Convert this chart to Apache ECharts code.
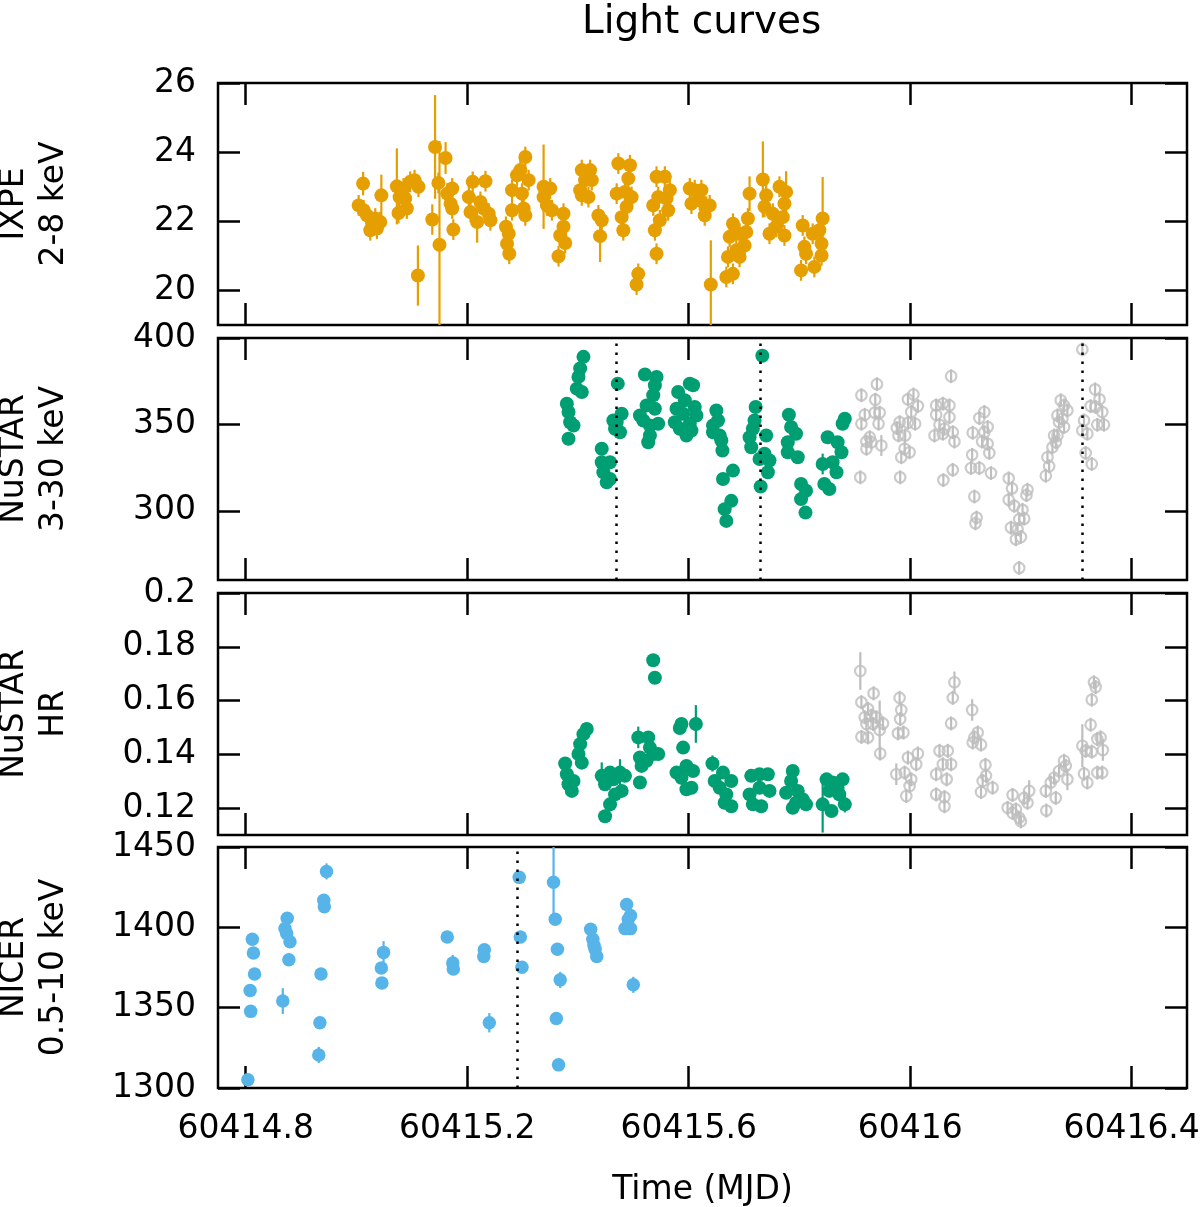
<!DOCTYPE html>
<html><head><meta charset="utf-8">
<script src="https://cdn.jsdelivr.net/npm/echarts@6/dist/echarts.min.js"></script>
<style>html,body{margin:0;padding:0;background:#fff}#chart{width:1200px;height:1207px}</style>
</head><body><div id="chart"></div>
<script>
// ---------- axis ticks ----------
const xTicks = [60414.8, 60415.2, 60415.6, 60416.0, 60416.4];
const xTickLabels = ['60414.8', '60415.2', '60415.6', '60416', '60416.4'];
const ixpeTicks = [20, 22, 24, 26];
const nustarTicks = [300, 350, 400];
const hrTicks = [0.12, 0.14, 0.16, 0.18, 0.2];
const nicerTicks = [1300, 1350, 1400, 1450];

// ---------- IXPE 2-8 keV ----------
const ixpeTime = [60415.012,60415.004,60415.013,60415.019,60415.028,60415.025,60415.037,60415.043,60415.034,60415.045,
60415.073,60415.078,60415.076,60415.085,60415.091,60415.097,60415.105,60415.112,60415.088,60415.111,
60415.142,60415.137,60415.148,60415.150,60415.161,60415.164,60415.173,60415.170,60415.173,60415.175,
60415.210,60415.233,60415.203,60415.206,60415.218,60415.224,60415.230,60415.239,60415.242,60415.270,
60415.275,60415.272,60415.276,60415.281,60415.281,60415.290,60415.305,60415.299,60415.302,60415.305,
60415.311,60415.296,60415.338,60415.338,60415.344,60415.350,60415.353,60415.374,60415.374,60415.368,
60415.377,60415.365,60415.407,60415.422,60415.404,60415.413,60415.425,60415.419,60415.407,60415.437,
60415.443,60415.440,60415.473,60415.494,60415.470,60415.491,60415.485,60415.497,60415.479,60415.482,
60415.488,60415.509,60415.506,60415.542,60415.557,60415.536,60415.545,60415.548,60415.539,60415.542,
60415.566,60415.563,60415.560,60415.602,60415.611,60415.623,60415.605,60415.620,60415.632,60415.629,
60415.638,60415.640,60415.674,60415.680,60415.671,60415.680,60415.668,60415.686,60415.692,60415.701,
60415.707,60415.710,60415.704,60415.692,60415.734,60415.740,60415.737,60415.752,60415.746,60415.764,
60415.776,60415.773,60415.770,60415.773,60415.758,60415.806,60415.809,60415.803,60415.812,60415.827,
60415.824,60415.836,60415.840,60415.840,60415.842];
const ixpeRate = [23.09,22.46,22.32,22.17,21.98,21.74,21.79,21.98,22.08,22.75,
23.01,22.70,22.24,22.95,22.37,23.14,23.19,23.00,22.66,20.43,
24.15,22.05,23.11,21.32,23.83,22.80,22.95,22.51,22.37,21.76,
23.14,23.16,22.70,22.27,21.98,22.56,22.37,22.22,22.03,21.84,
21.64,21.35,21.06,22.90,22.32,23.33,23.86,22.80,22.37,22.17,
23.19,23.48,23.00,22.70,22.46,22.95,22.32,22.22,21.84,21.59,
21.37,20.99,23.48,23.48,22.90,23.19,23.19,22.70,22.75,22.17,
22.03,21.57,23.67,23.62,22.80,23.24,22.85,22.70,22.12,21.74,
22.42,20.48,20.17,23.29,23.29,22.46,22.70,22.03,21.74,21.06,
22.90,22.32,22.66,22.95,22.90,22.90,22.51,22.61,22.42,22.17,
22.46,20.17,21.55,21.93,20.97,20.48,20.39,21.16,21.64,21.30,
22.08,22.80,21.69,20.97,23.21,22.75,22.42,22.22,21.64,23.00,
22.85,22.51,22.12,21.59,21.84,21.88,21.26,20.58,21.06,20.68,
21.64,21.74,21.35,21.01,22.08];
const ixpeErr = [0.34,0.3,0.3,0.3,0.3,0.3,0.3,0.3,0.3,0.6,
1.1,0.3,0.3,0.3,0.3,0.3,0.3,0.3,0.3,0.87,
1.5,0.44,0.3,3.0,0.46,0.3,0.3,0.3,0.3,0.3,
0.3,0.3,0.3,0.3,0.6,0.3,0.3,0.3,0.3,0.3,
0.3,0.3,0.3,0.3,0.3,0.3,0.3,0.3,0.3,0.3,
0.3,0.3,1.22,0.3,0.3,0.3,0.3,0.3,0.3,0.3,
0.3,0.3,0.3,0.3,0.3,0.3,0.3,0.3,0.3,0.3,
0.3,0.75,0.3,0.3,0.3,0.3,0.3,0.3,0.3,0.3,
0.3,0.3,0.3,0.3,0.3,0.3,0.3,0.3,0.3,0.3,
0.3,0.3,0.3,0.3,0.3,0.3,0.3,0.3,0.3,0.3,
0.3,1.28,0.3,0.3,0.3,0.3,0.3,0.3,0.3,0.3,
0.3,0.5,0.3,0.3,1.1,0.3,0.3,0.3,0.3,0.3,
0.6,0.3,0.3,0.3,0.3,0.3,0.3,0.3,0.3,0.3,
0.3,0.3,0.3,0.3,1.2];

// ---------- NuSTAR 3-30 keV (coloured part) ----------
const nuTime = [60415.410,60415.404,60415.401,60415.398,60415.407,60415.380,60415.383,60415.386,60415.392,60415.383,
60415.443,60415.443,60415.458,60415.446,60415.452,60415.458,60415.472,60415.464,60415.479,60415.476,
60415.467,60415.470,60415.521,60415.542,60415.539,60415.536,60415.524,60415.512,60415.539,60415.518,
60415.530,60415.545,60415.527,60415.530,60415.602,60415.608,60415.581,60415.593,60415.578,60415.611,
60415.590,60415.614,60415.575,60415.602,60415.584,60415.596,60415.605,60415.650,60415.653,60415.644,
60415.644,60415.656,60415.659,60415.661,60415.680,60415.662,60415.677,60415.665,60415.668,60415.721,
60415.719,60415.716,60415.710,60415.713,60415.740,60415.737,60415.728,60415.746,60415.743,60415.730,
60415.733,60415.781,60415.785,60415.794,60415.779,60415.779,60415.797,60415.803,60415.812,60415.803,
60415.811,60415.851,60415.869,60415.876,60415.842,60415.860,60415.867,60415.845,60415.854,60415.878,
60415.882];
const nuRate = [389.1,382.4,377.5,370.7,368.8,362.0,357.2,351.3,349.4,341.7,
335.9,328.1,328.1,322.3,316.5,318.4,373.6,352.3,356.2,345.5,
347.5,351.3,378.9,377.5,372.7,366.9,361.0,355.2,359.1,352.3,
349.4,350.4,339.7,343.6,373.6,372.7,368.8,364.0,359.1,360.1,
356.2,355.2,351.3,350.4,347.5,343.6,346.5,358.1,352.3,349.4,
345.5,343.6,340.7,334.9,323.3,318.4,305.8,301.0,294.2,360.1,
352.3,347.5,342.6,336.8,343.6,333.0,330.0,329.1,322.3,314.1,
389.7,355.6,348.5,344.6,339.7,333.9,331.0,315.5,311.6,306.8,
299.0,342.6,339.7,333.9,327.1,328.1,322.3,315.5,312.6,350.4,
353.3];
const nuErr = [3,3,3,3,3,3,3,3,3,3, 3,3,3,3,3,3,3,3,3,3, 3,3,3,3,3,3,3,3,3,3, 3,3,3,3,3,3,3,3,3,3,
3,3,3,3,3,3,3,3,3,3, 3,3,3,3,3,3,3,3,3,3, 3,3,3,3,3,3,3,3,3,3, 3,3,3,3,3,3,3,3,3,3,
3,3,3,3,6,3,3,3,3,3, 3];

// ---------- NuSTAR 3-30 keV (grey part) ----------
const nuGreyTime = [60415.912,60415.940,60415.937,60415.918,60415.912,60415.936,60415.945,60415.943,60415.927,60415.921,
60415.930,60415.948,60415.921,60415.910,60415.996,60416.006,60416.014,60416.002,60415.981,60415.996,
60416.009,60415.976,60415.979,60415.991,60415.990,60415.999,60415.984,60415.982,60416.074,60416.047,
60416.059,60416.071,60416.047,60416.071,60416.053,60416.062,60416.044,60416.059,60416.077,60416.080,
60416.077,60416.060,60416.134,60416.125,60416.140,60416.113,60416.134,60416.130,60416.140,60416.143,
60416.112,60416.110,60416.125,60416.146,60416.116,60416.120,60416.118,60416.178,60416.184,60416.178,
60416.188,60416.212,60416.210,60416.203,60416.197,60416.206,60416.182,60416.194,60416.191,60416.200,
60416.197,60416.245,60416.251,60416.248,60416.257,60416.263,60416.260,60416.266,60416.269,60416.266,
60416.275,60416.272,60416.278,60416.284,60416.278,60416.311,60416.314,60416.311,60416.320,60416.317,
60416.328,60416.334,60416.342,60416.326,60416.335,60416.347,60416.338,60416.350];
const nuGreyRate = [366.9,373.3,364.3,355.6,350.4,356.8,356.8,350.4,342.6,340.1,
339.7,337.8,335.9,319.4,364.5,367.3,360.6,357.2,351.3,350.9,
350.4,347.9,343.6,343.6,335.9,333.9,331.0,319.4,377.9,361.0,
362.0,361.0,355.6,354.2,349.8,347.5,343.6,344.6,345.5,340.1,
323.7,317.8,357.2,353.7,348.5,345.2,345.5,340.1,338.8,333.5,
332.4,324.8,324.8,321.9,308.3,296.1,292.8,318.8,313.0,306.4,
302.9,312.2,309.1,300.6,295.2,295.5,290.3,289.4,283.6,284.9,
267.0,320.3,325.8,331.0,336.8,339.7,343.6,343.6,351.3,355.2,
353.3,364.0,361.0,358.1,348.5,393.4,352.3,346.5,344.6,333.5,
327.1,370.3,364.5,360.6,360.1,357.2,349.8,349.8];
const nuGreyErr = [4,4,4,4,4,4,4,4,4,4, 4,6,4,4,4,4,4,4,4,4, 4,4,4,4,4,4,4,4,4,4, 4,4,4,4,4,4,4,4,4,4,
4,4,4,4,4,4,4,4,4,4, 4,4,4,4,4,4,4,4,4,4, 4,4,4,4,4,4,4,4,4,4, 4,4,4,4,4,4,4,4,4,4,
4,4,4,4,4,4,4,4,4,4, 4,4,4,4,4,4,4,4];
const nustarMarks = [60415.471, 60415.733, 60416.311];

// ---------- NuSTAR hardness ratio (coloured part) ----------
const hrTime = [60415.377,60415.380,60415.383,60415.389,60415.392,60415.407,60415.401,60415.404,60415.410,60415.416,
60415.443,60415.449,60415.458,60415.464,60415.476,60415.479,60415.458,60415.449,60415.467,60415.485,
60415.509,60415.512,60415.515,60415.512,60415.527,60415.530,60415.536,60415.545,60415.524,60415.536,
60415.539,60415.587,60415.584,60415.613,60415.590,60415.578,60415.587,60415.596,60415.608,60415.596,
60415.605,60415.643,60415.647,60415.662,60415.656,60415.677,60415.668,60415.665,60415.677,60415.713,
60415.728,60415.743,60415.710,60415.716,60415.731,60415.728,60415.746,60415.788,60415.785,60415.776,
60415.797,60415.794,60415.806,60415.812,60415.788,60415.849,60415.860,60415.878,60415.854,60415.869,
60415.842,60415.858,60415.882,60415.872];
const hrValue = [0.1366,0.1326,0.1289,0.1264,0.1301,0.1369,0.1401,0.1438,0.1475,0.1494,
0.1320,0.1289,0.1332,0.1307,0.1332,0.1264,0.1214,0.1170,0.1251,0.1320,
0.1463,0.1388,0.1357,0.1295,0.1463,0.1425,0.1401,0.1401,0.1376,0.1750,
0.1685,0.1513,0.1498,0.1513,0.1425,0.1332,0.1313,0.1357,0.1338,0.1270,
0.1276,0.1366,0.1301,0.1332,0.1276,0.1301,0.1251,0.1220,0.1207,0.1320,
0.1326,0.1326,0.1251,0.1214,0.1207,0.1276,0.1264,0.1338,0.1301,0.1257,
0.1264,0.1220,0.1232,0.1214,0.1201,0.1307,0.1295,0.1307,0.1264,0.1276,
0.1214,0.1189,0.1214,0.1251];
const hrErr = [0.0022,0.0022,0.0022,0.0022,0.0022,0.0022,0.0022,0.0022,0.004,0.0022,
0.005,0.0022,0.0022,0.0022,0.005,0.0022,0.0022,0.0022,0.0022,0.0022,
0.004,0.0022,0.0022,0.0022,0.0022,0.0022,0.0022,0.0022,0.0022,0.0022,
0.0022,0.0022,0.0022,0.007,0.0022,0.0022,0.0022,0.0022,0.0022,0.0022,
0.0022,0.003,0.0022,0.0022,0.0022,0.0022,0.0022,0.0022,0.0022,0.0022,
0.0022,0.0022,0.0022,0.0022,0.0022,0.0022,0.0022,0.0022,0.0022,0.0022,
0.0022,0.0022,0.0022,0.0022,0.0022,0.0022,0.0022,0.0022,0.0022,0.0022,
0.0105,0.0022,0.003,0.0022];

// ---------- NuSTAR hardness ratio (grey part) ----------
const hrGreyTime = [60415.910,60415.912,60415.934,60415.924,60415.918,60415.930,60415.939,60415.921,60415.933,60415.951,
60415.945,60415.912,60415.924,60415.946,60415.981,60415.984,60415.982,60415.978,60415.988,60416.014,
60415.996,60416.011,60415.990,60415.975,60416.002,60415.999,60415.993,60416.053,60416.068,60416.059,
60416.074,60416.047,60416.066,60416.047,60416.062,60416.062,60416.080,60416.077,60416.074,60416.112,
60416.122,60416.116,60416.113,60416.128,60416.136,60416.137,60416.131,60416.149,60416.128,60416.185,
60416.176,60416.185,60416.197,60416.200,60416.191,60416.206,60416.215,60416.212,60416.245,60416.246,
60416.254,60416.263,60416.260,60416.269,60416.278,60416.281,60416.284,60416.311,60416.314,60416.320,
60416.317,60416.328,60416.326,60416.328,60416.332,60416.335,60416.338,60416.344,60416.348,60416.338,
60416.347];
const hrGreyValue = [0.1710,0.1594,0.1627,0.1569,0.1538,0.1544,0.1538,0.1513,0.1513,0.1515,
0.1490,0.1465,0.1463,0.1403,0.1610,0.1565,0.1531,0.1478,0.1481,0.1403,
0.1388,0.1363,0.1332,0.1326,0.1307,0.1282,0.1245,0.1413,0.1413,0.1363,
0.1363,0.1326,0.1307,0.1251,0.1241,0.1207,0.1668,0.1610,0.1515,0.1565,
0.1481,0.1463,0.1444,0.1436,0.1361,0.1320,0.1301,0.1276,0.1260,0.1249,
0.1201,0.1182,0.1164,0.1151,0.1195,0.1238,0.1264,0.1220,0.1264,0.1191,
0.1295,0.1238,0.1313,0.1338,0.1376,0.1357,0.1307,0.1432,0.1328,0.1295,
0.1413,0.1410,0.1510,0.1603,0.1668,0.1650,0.1457,0.1463,0.1416,0.1332,
0.1332];
const hrGreyErr = [0.007,0.0026,0.0026,0.0026,0.0026,0.0026,0.0026,0.0026,0.0026,0.0026,
0.011,0.0026,0.0026,0.0026,0.0026,0.0026,0.0026,0.0026,0.0026,0.0026,
0.0026,0.0026,0.0026,0.004,0.0026,0.0026,0.0026,0.0026,0.0026,0.0026,
0.0026,0.0026,0.0026,0.0026,0.0026,0.0026,0.004,0.0026,0.0026,0.004,
0.0026,0.0026,0.0026,0.0026,0.0026,0.0026,0.0026,0.0026,0.0026,0.0026,
0.0026,0.0026,0.0026,0.0026,0.0026,0.0026,0.004,0.0026,0.0026,0.0026,
0.0026,0.0026,0.0026,0.0026,0.0026,0.0026,0.004,0.008,0.0026,0.0026,
0.0026,0.0026,0.0026,0.0026,0.0026,0.0026,0.0026,0.0026,0.004,0.0026,
0.0026];

// ---------- NICER 0.5-10 keV ----------
const nicerTime = [60414.812,60414.814,60414.816,60414.808,60414.809,60414.804,60414.875,60414.871,60414.874,60414.880,
60414.878,60414.867,60414.946,60414.941,60414.942,60414.936,60414.934,60414.932,60415.049,60415.045,
60415.046,60415.164,60415.174,60415.175,60415.231,60415.230,60415.240,60415.294,60415.296,60415.299,
60415.356,60415.359,60415.363,60415.368,60415.361,60415.365,60415.423,60415.427,60415.429,60415.431,
60415.434,60415.488,60415.495,60415.491,60415.485,60415.495,60415.500];
const nicerRate = [1392.6,1384.0,1371.0,1360.7,1347.7,1305.1,1405.6,1399.2,1396.1,1391.0,
1379.8,1354.1,1434.8,1416.9,1412.8,1371.0,1340.6,1320.6,1384.4,1374.7,
1365.4,1394.0,1377.8,1374.1,1386.0,1381.9,1340.6,1431.1,1394.0,1375.1,
1428.0,1405.0,1386.4,1367.3,1343.2,1314.4,1398.8,1392.6,1388.9,1386.4,
1381.9,1414.2,1407.4,1405.0,1399.2,1399.2,1364.2];
const nicerErr = [3,3,3,3,3,3,3,3,3,3,
3,8,5,3,3,3,3,5,7,3,
3,3,5,3,3,3,6,3,3,3,
23,3,3,5,3,3,3,3,3,3,
4,3,3,3,3,3,5];
const nicerMarks = [60415.294];

// ---------- chart ----------
const FONT = 'DejaVu Sans';
const xMin = 60414.75, xMax = 60416.5;
const zip = (t, v, e) => t.map((x, i) => [x, v[i], e[i]]);
const fmt = v => String(Number(v.toFixed(4)));

const panels = [
  {min: 19, max: 26, ticks: ixpeTicks, name: 'IXPE\n2-8 keV'},
  {min: 260, max: 400, ticks: nustarTicks, name: 'NuSTAR\n3-30 keV'},
  {min: 0.11, max: 0.2, ticks: hrTicks, name: 'NuSTAR\nHR'},
  {min: 1300, max: 1450, ticks: nicerTicks, name: 'NICER\n0.5-10 keV'}
];
const tops = [83, 338, 593, 847];
const heights = [242, 242, 242, 241];

const grids = [], xAxes = [], yAxes = [], series = [];
panels.forEach((p, i) => {
  grids.push({left: 218, right: 13, top: tops[i], height: heights[i], show: true, containLabel: false,
    outerBoundsMode: 'none',
    borderColor: '#000', borderWidth: 2.5, backgroundColor: 'rgba(0,0,0,0)'});
  const xt = {show: true, inside: true, length: 22, lineStyle: {color: '#000', width: 2.5}, customValues: xTicks};
  const yt = {show: true, inside: true, length: 22, lineStyle: {color: '#000', width: 2.5}, customValues: p.ticks};
  const common = {type: 'value', gridIndex: i, axisLine: {show: false}, splitLine: {show: false}};
  xAxes.push(Object.assign({}, common, {position: 'bottom', min: xMin, max: xMax, axisTick: xt,
    axisLabel: {show: i === 3, customValues: xTicks, fontSize: 33, fontFamily: FONT, color: '#000', margin: 25,
      formatter: v => { const k = xTicks.findIndex(t => Math.abs(t - v) < 1e-6); return k >= 0 ? xTickLabels[k] : ''; }},
    name: i === 3 ? 'Time (MJD)' : '', nameLocation: 'middle', nameGap: 86,
    nameTextStyle: {fontSize: 33, fontFamily: FONT, color: '#000'}}));
  xAxes.push(Object.assign({}, common, {position: 'top', min: xMin, max: xMax, axisTick: xt, axisLabel: {show: false}}));
  yAxes.push(Object.assign({}, common, {position: 'left', min: p.min, max: p.max, axisTick: yt,
    axisLabel: {customValues: p.ticks, fontSize: 33, fontFamily: FONT, color: '#000', margin: 22, formatter: fmt},
    name: p.name, nameLocation: 'middle', nameRotate: 90, nameGap: 144,
    nameTextStyle: {fontSize: 33, fontFamily: FONT, color: '#000', lineHeight: 40, align: 'center'}}));
  yAxes.push(Object.assign({}, common, {position: 'right', min: p.min, max: p.max, axisTick: yt, axisLabel: {show: false}}));
});

function errSeries(i, data, color) {
  return {type: 'custom', xAxisIndex: 2 * i, yAxisIndex: 2 * i, clip: true, silent: true, z: 2,
    encode: {x: 0, y: 1}, data,
    renderItem(params, api) {
      const x = api.value(0), y = api.value(1), e = api.value(2);
      const a = api.coord([x, y - e]), b = api.coord([x, y + e]);
      return {type: 'line', shape: {x1: a[0], y1: a[1], x2: b[0], y2: b[1]}, style: {stroke: color, lineWidth: 2.2}};
    }};
}
function dotSeries(i, data, color, size, hollow, marks) {
  const s = {type: 'scatter', xAxisIndex: 2 * i, yAxisIndex: 2 * i, silent: true, z: 3, clip: true,
    data: data.map(d => [d[0], d[1]]), symbol: 'circle', symbolSize: size,
    itemStyle: hollow ? {color: 'rgba(255,255,255,0)', borderColor: color, borderWidth: 2.2} : {color: color, opacity: 1}};
  if (marks) {
    s.markLine = {silent: true, symbol: ['none', 'none'], label: {show: false}, animation: false,
      lineStyle: {color: '#000', type: [2.5, 6.5], width: 2.5, opacity: 1},
      emphasis: {disabled: true}, data: marks.map(m => ({xAxis: m}))};
  }
  return s;
}

const ORANGE = '#E69F00', GREEN = '#009E73', GREY = '#BEBEBE', BLUE = '#56B4E9';
const ixpe = zip(ixpeTime, ixpeRate, ixpeErr);
const nu = zip(nuTime, nuRate, nuErr);
const nuG = zip(nuGreyTime, nuGreyRate, nuGreyErr);
const hr = zip(hrTime, hrValue, hrErr);
const hrG = zip(hrGreyTime, hrGreyValue, hrGreyErr);
const nicer = zip(nicerTime, nicerRate, nicerErr);

series.push(errSeries(0, ixpe, ORANGE), dotSeries(0, ixpe, ORANGE, 14, false));
series.push(errSeries(1, nu, GREEN), dotSeries(1, nu, GREEN, 14, false, nustarMarks));
series.push(errSeries(1, nuG, GREY), dotSeries(1, nuG, GREY, 10.5, true));
series.push(errSeries(2, hr, GREEN), dotSeries(2, hr, GREEN, 14, false));
series.push(errSeries(2, hrG, GREY), dotSeries(2, hrG, GREY, 10.5, true));
series.push(errSeries(3, nicer, BLUE), dotSeries(3, nicer, BLUE, 13.5, false, nicerMarks));

const chart = echarts.init(document.getElementById('chart'), null, {renderer: 'canvas'});
chart.setOption({
  animation: false,
  backgroundColor: '#fff',
  textStyle: {fontFamily: FONT},
  title: {text: 'Light curves', left: 582, top: 3, padding: 0,
    textStyle: {fontSize: 39, fontWeight: 'normal', color: '#000', fontFamily: FONT}},
  grid: grids, xAxis: xAxes, yAxis: yAxes, series
});
</script>
</body></html>
